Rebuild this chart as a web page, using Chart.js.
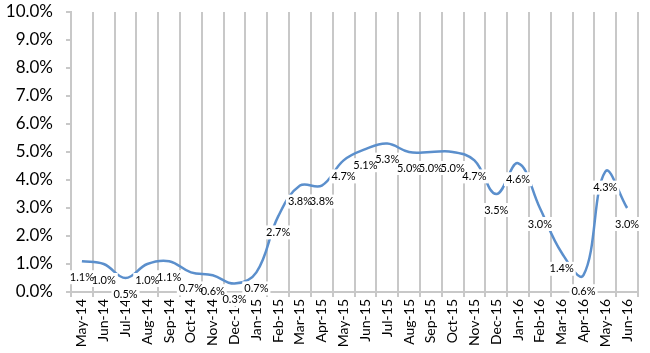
<!DOCTYPE html>
<html><head><meta charset="utf-8">
<script src="https://cdn.jsdelivr.net/npm/chart.js@4"></script>
<style>html,body{margin:0;padding:0;background:#fff}#wrap{width:650px;height:353px}</style>
</head><body><div id="wrap"><canvas id="c" width="650" height="353"></canvas></div>
<script>
const categories = ["May-14","Jun-14","Jul-14","Aug-14","Sep-14","Oct-14","Nov-14","Dec-14","Jan-15","Feb-15","Mar-15","Apr-15","May-15","Jun-15","Jul-15","Aug-15","Sep-15","Oct-15","Nov-15","Dec-15","Jan-16","Feb-16","Mar-16","Apr-16","May-16","Jun-16"];
const values = [1.1,1.0,0.5,1.0,1.1,0.7,0.6,0.3,0.7,2.7,3.8,3.8,4.7,5.1,5.3,5.0,5.0,5.0,4.7,3.5,4.6,3.0,1.4,0.6,4.3,3.0];
const yMin = 0, yMax = 10, yStep = 1;

const labelPlugin = {
  id: 'valLabels',
  afterDatasetsDraw(chart) {
    const ctx = chart.ctx;
    const meta = chart.getDatasetMeta(0);
    ctx.save();
    ctx.font = '11px Lato, "Liberation Sans", sans-serif';
    ctx.textAlign = 'center';
    ctx.textBaseline = 'middle';
    const items = meta.data.map((pt, i) => {
      const txt = values[i].toFixed(1) + '%';
      return { txt, x: pt.x, y: pt.y + 16, w: ctx.measureText(txt).width + 4 };
    });
    ctx.fillStyle = '#ffffff';
    items.forEach(it => ctx.fillRect(it.x - it.w / 2, it.y - 7, it.w, 14));
    ctx.fillStyle = '#000000';
    items.forEach(it => ctx.fillText(it.txt, it.x, it.y));
    ctx.restore();
  }
};

new Chart(document.getElementById('c'), {
  type: 'line',
  data: {
    labels: categories,
    datasets: [{
      data: values,
      borderColor: '#5b8fcc',
      borderWidth: 2.5,
      pointRadius: 0,
      tension: 0.4,
      fill: false
    }]
  },
  options: {
    responsive: false,
    devicePixelRatio: 1,
    animation: false,
    layout: { padding: { top: 12, right: 12, left: 0, bottom: 0 } },
    plugins: { legend: { display: false }, tooltip: { enabled: false } },
    scales: {
      x: {
        offset: true,
        grid: { offset: true, color: '#c8c8c8', lineWidth: 2, tickLength: 5, drawTicks: true },
        border: { color: '#c8c8c8', width: 2 },
        ticks: { minRotation: 90, maxRotation: 90, autoSkip: false, color: '#000', font: { size: 14, family: 'Lato, "Liberation Sans", sans-serif' }, padding: 2 },
        afterFit(s) { s.height = 61; s.paddingLeft = 0; s.paddingRight = 0; }
      },
      y: {
        min: yMin, max: yMax,
        ticks: { stepSize: yStep, color: '#000', font: { size: 17, family: 'Lato, "Liberation Sans", sans-serif' }, padding: 13,
          callback: v => v.toFixed(1) + '%' },
        grid: { drawOnChartArea: false, color: '#c8c8c8', lineWidth: 2, tickLength: 5 },
        border: { color: '#c8c8c8', width: 2 },
        afterFit(s) { s.width = 71; s.paddingTop = 0; s.paddingBottom = 0; }
      }
    }
  },
  plugins: [labelPlugin]
});
</script>
</body></html>
